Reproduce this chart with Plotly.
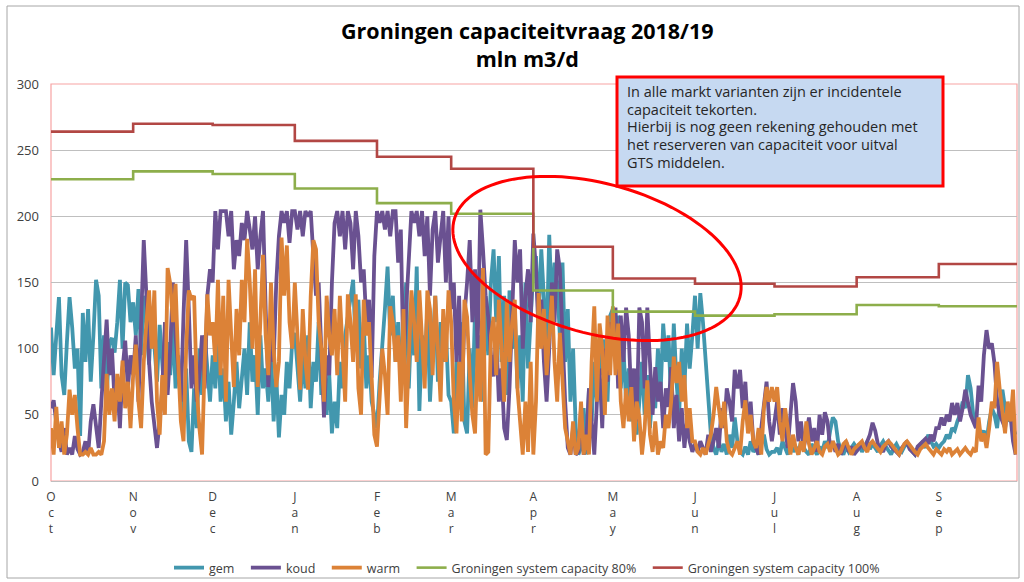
import numpy as np
import pandas as pd
import plotly.graph_objects as go

# ---------------- data (mln m3/d), daily values Oct 2018 - Sep 2019 ----------------
start_date = "2018-10-01"

gem = [
    # Oct
    116,80,110,139,80,65,105,139,116,85,100,34,127,90,130,75,110,152,140,70,110,62,105,108,97,120,152,100,150,148,120,
    # Nov
    135,110,145,95,140,120,88,130,100,75,118,92,60,105,80,120,70,95,60,45,85,30,22,70,40,100,65,110,80,60,
    # Dec
    95,70,110,60,85,45,75,35,60,90,55,80,100,65,120,75,95,50,110,70,85,60,100,45,80,33,65,50,90,70,105,
    # Jan
    112,85,60,95,70,110,55,90,75,120,65,100,50,80,36,60,40,90,70,110,125,140,152,100,137,85,120,70,95,60,48,
    # Feb
    40,75,100,130,162,110,140,90,120,80,105,150,70,125,95,162,53,110,85,130,60,100,140,75,120,90,115,65,
    # Mar
    60,36,90,70,120,45,36,100,55,130,80,110,60,140,95,150,175,120,170,90,140,65,144,100,130,70,110,60,150,85,120,
    # Apr
    160,170,120,175,140,100,186,130,165,150,110,165,90,130,60,100,40,20,25,55,20,70,45,90,60,107,80,107,60,125,
    # May
    130,95,125,70,100,60,85,45,75,35,60,90,50,80,40,70,55,100,65,119,90,110,60,119,75,50,100,70,119,85,110,
    # Jun
    140,100,142,120,90,60,35,25,20,30,22,28,20,35,25,48,30,22,20,26,20,30,22,25,20,28,35,24,20,22,
    # Jul
    22,25,20,30,24,20,28,22,26,20,30,25,22,20,28,24,20,26,22,30,25,38,48,45,30,24,20,26,22,25,28,
    # Aug
    25,28,22,26,30,24,28,25,22,27,30,26,23,20,25,28,24,22,26,28,25,22,20,24,27,30,25,35,30,26,28,
    # Sep
    25,28,30,35,32,40,38,45,50,60,55,80,70,50,45,40,35,38,30,45,55,50,40,60,69,55,45,50,40,35,
]

koud = [
    # Oct
    55,61,44,30,22,40,20,25,20,34,24,20,22,30,20,45,58,40,25,60,90,122,80,100,60,75,40,85,106,70,95,
    # Nov
    80,110,60,120,182,140,90,60,40,25,45,70,120,65,100,150,110,85,60,125,182,130,70,95,60,80,110,70,140,160,
    # Dec
    150,204,175,204,204,204,185,204,160,182,170,195,182,204,190,175,200,160,185,204,130,71,110,90,150,185,204,195,204,180,204,
    # Jan
    204,190,204,185,204,200,204,170,140,150,100,48,95,80,150,195,204,185,204,175,204,195,160,204,185,150,160,120,137,78,170,
    # Feb
    204,195,204,190,204,185,204,204,165,190,87,130,170,204,195,204,185,204,170,200,140,190,204,165,185,204,150,200,
    # Mar
    130,150,90,140,60,125,150,182,120,160,100,205,175,140,124,95,79,110,60,85,40,31,70,120,182,150,175,100,140,160,120,
    # Apr
    187,160,110,137,90,60,100,150,120,175,160,100,60,25,20,40,20,22,55,20,30,70,45,20,60,85,40,100,75,120,
    # May
    100,131,70,125,90,131,110,60,85,45,131,120,70,131,90,50,86,60,75,40,70,56,86,40,65,30,55,25,45,30,22,
    # Jun
    28,22,30,25,20,35,22,30,40,25,55,40,70,60,45,84,70,84,55,75,40,60,30,25,20,40,60,75,45,30,
    # Jul
    45,60,35,55,40,25,50,74,60,30,45,25,35,48,30,40,22,50,35,52,45,25,30,22,28,20,25,30,22,26,20,
    # Aug
    22,25,28,24,30,35,44,38,28,25,22,28,30,26,24,22,20,25,28,30,24,22,20,26,28,30,32,28,35,30,40,
    # Sep
    40,48,42,50,45,59,50,59,45,55,69,60,50,45,40,72,60,95,114,100,104,89,60,50,45,40,55,50,30,20,
]

warm = [
    # Oct
    40,20,56,25,45,20,35,69,50,65,40,20,20,22,20,25,20,20,22,20,30,81,50,70,45,81,60,91,55,75,40,
    # Nov
    80,103,60,40,90,120,144,100,144,60,35,80,50,161,149,120,149,90,45,30,100,144,137,140,70,40,20,90,141,110,
    # Dec
    120,90,152,80,140,60,152,110,71,130,95,152,120,183,150,100,160,71,120,171,110,80,150,100,71,90,184,140,178,120,100,
    # Jan
    150,110,69,130,90,69,140,182,175,120,100,60,140,110,95,130,80,140,100,60,141,120,90,141,70,50,137,110,120,80,35,
    # Feb
    26,60,100,80,50,132,120,90,110,60,130,40,100,144,120,90,144,110,70,144,130,80,140,100,60,130,90,144,
    # Mar
    120,60,36,90,45,137,124,80,50,36,100,60,161,20,22,110,124,80,137,100,60,137,90,120,137,70,40,20,60,22,90,
    # Apr
    20,60,142,100,130,80,112,140,90,60,112,80,40,30,20,45,20,25,60,20,35,20,90,132,60,119,100,50,125,80,
    # May
    132,80,119,60,40,70,45,71,30,60,48,20,40,76,35,22,45,20,30,25,50,40,60,94,74,90,60,80,40,55,30,
    # Jun
    30,22,20,25,20,28,35,50,71,55,40,60,30,22,20,25,30,20,45,61,36,50,30,25,40,20,55,71,60,71,
    # Jul
    60,71,45,30,55,40,20,35,25,20,30,22,45,28,20,25,30,22,20,26,28,22,30,25,20,22,28,30,25,20,24,
    # Aug
    26,28,30,25,22,28,30,27,24,22,26,28,30,28,25,22,20,24,28,30,27,25,22,20,24,26,28,25,22,20,24,
    # Sep
    22,20,24,22,25,20,22,24,20,22,25,22,20,24,22,48,30,36,25,40,60,55,90,69,50,36,60,45,69,20,
]

month_starts = ["2018-10-01","2018-11-01","2018-12-01","2019-01-01","2019-02-01","2019-03-01",
                "2019-04-01","2019-05-01","2019-06-01","2019-07-01","2019-08-01","2019-09-01"]
month_labels = ["Oct","Nov","Dec","Jan","Feb","Mar","Apr","May","Jun","Jul","Aug","Sep"]
cap80 = [228,234,232,221,210,202,144,128,125,126,133,132]
cap100 = [264,270,269,257,245,236,177,153,149,147,154,164]
period_end = "2019-09-30 12:00"

note_lines = ["In alle markt varianten zijn er incidentele",
              "capaciteit tekorten.",
              "Hierbij is nog geen rekening gehouden met",
              "het reserveren van capaciteit voor uitval",
              "GTS middelen."]

# ---------------- figure ----------------
days = pd.date_range(start_date, periods=len(gem), freq="D")
step_x = month_starts + [period_end]
pad = "\u00a0\u00a0"

fig = go.Figure()
series = [("gem", gem, "#4297AE"), ("koud", koud, "#6A5191"), ("warm", warm, "#DC8237")]
for name, vals, col in series:
    fig.add_trace(go.Scatter(x=days, y=vals, name=name + pad, mode="lines",
                             line=dict(color=col, width=3.8), hoverinfo="skip"))
fig.add_trace(go.Scatter(x=step_x, y=cap80 + [cap80[-1]], name="Groningen system capacity 80%" + pad,
                         mode="lines", line=dict(color="#8DAE4B", width=2.6, shape="hv"),
                         hoverinfo="skip"))
fig.add_trace(go.Scatter(x=step_x, y=cap100 + [cap100[-1]], name="Groningen system capacity 100%",
                         mode="lines", line=dict(color="#B24744", width=2.6, shape="hv"),
                         hoverinfo="skip"))

W, H = 1024, 582
L, R, T, B = 51, 1017, 84, 481

def px(x):
    return (x - L) / (R - L)

def py(y):
    return (B - y) / (B - T)

# rotated ellipse (highlight)
cx, cy, a, b, th = 597, 258.5, 148, 75, np.deg2rad(15.2)
t = np.linspace(0, 2 * np.pi, 120)
ex = cx + a * np.cos(th) * np.cos(t) - b * np.sin(th) * np.sin(t)
ey = cy + a * np.sin(th) * np.cos(t) + b * np.cos(th) * np.sin(t)
path = "M " + " L ".join(f"{px(xx):.5f},{py(yy):.5f}" for xx, yy in zip(ex, ey)) + " Z"

shapes = [
    # outer chart border
    dict(type="rect", xref="paper", yref="paper", x0=px(7), x1=px(1019), y0=py(578), y1=py(6),
         line=dict(color="#A6A6A6", width=1), layer="below"),
    # plot area border
    dict(type="rect", xref="paper", yref="paper", x0=0, x1=1, y0=0, y1=1,
         line=dict(color="#F7A3A3", width=1.2), layer="below"),
    dict(type="path", xref="paper", yref="paper", path=path,
         line=dict(color="#FF0000", width=3)),
    # note box
    dict(type="rect", xref="paper", yref="paper", x0=px(617), x1=px(943), y0=py(186), y1=py(77),
         line=dict(color="#FF0000", width=3), fillcolor="#C6D9F1"),
]

annotations = [
    dict(xref="paper", yref="paper", x=px(527), y=py(44.5),
         text="<b>Groningen capaciteitvraag 2018/19</b><br><b>mln m3/d</b>",
         showarrow=False, align="center",
         font=dict(family="Open Sans", size=21.5, color="#000000"), xanchor="center", yanchor="middle"),
]
for i, (txt, yc) in enumerate(zip(note_lines, [92, 109.5, 127, 144.5, 162])):
    annotations.append(dict(xref="paper", yref="paper", x=px(625), y=py(yc), text=txt,
                            showarrow=False, align="left", xanchor="left", yanchor="middle",
                            font=dict(family="Open Sans", size=14.5, color="#262626")))

fig.update_layout(
    width=W, height=H,
    margin=dict(l=L, r=W - R, t=T, b=H - B, autoexpand=False),
    paper_bgcolor="white", plot_bgcolor="white",
    showlegend=True,
    legend=dict(orientation="h", x=px(527), xanchor="center", y=py(568), yanchor="middle",
                font=dict(family="Open Sans", size=12.5, color="#404040"), itemwidth=30,
                bgcolor="rgba(0,0,0,0)"),
    shapes=shapes, annotations=annotations,
    font=dict(family="Open Sans", color="#404040"),
)
fig.update_xaxes(type="date", range=[start_date, period_end],
                 tickvals=month_starts, ticktext=["<br>".join(list(m)) for m in month_labels],
                 showgrid=False, showline=True, linecolor="#BFBFBF", linewidth=1,
                 ticks="", tickfont=dict(family="Open Sans", size=12, color="#404040"),
                 ticklabelstandoff=5, zeroline=False)
fig.update_yaxes(range=[0, 300], tickvals=[0, 50, 100, 150, 200, 250, 300],
                 showgrid=True, gridcolor="#BFBFBF", gridwidth=1, zeroline=False,
                 showline=False, ticks="", ticklabelstandoff=11,
                 tickfont=dict(family="Open Sans", size=13, color="#404040"))

fig.write_html("out.html", config={"displayModeBar": False},
               post_script="document.body.style.margin='0';document.body.style.overflow='hidden';")
